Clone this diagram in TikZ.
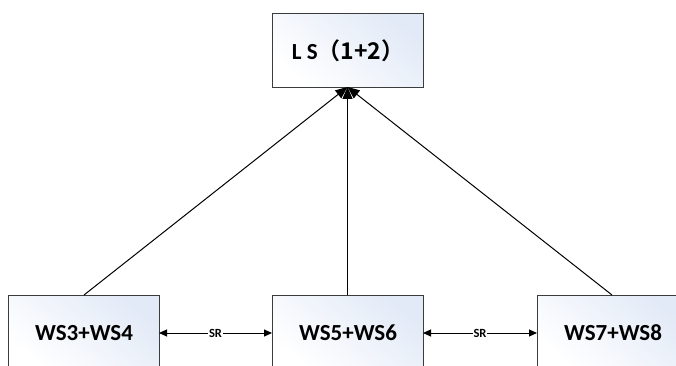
\documentclass[tikz,border=0pt]{standalone}
\usepackage{fontspec}
\setmainfont{Carlito}[BoldFont={Carlito Bold}]
\newfontfamily\cjkfont{Noto Sans CJK SC}[BoldFont={Noto Sans CJK SC Bold}]
\usetikzlibrary{arrows.meta}
\definecolor{boxline}{RGB}{60,60,60}
\definecolor{boxtint}{RGB}{226,234,247}
\begin{document}
\begin{tikzpicture}[x=1pt,y=-1pt,
  wsbox/.style={draw=boxline,line width=1.3pt,minimum width=151pt,minimum height=74pt,
    inner sep=0pt,anchor=north west,top color=boxtint,bottom color=white,shading angle=-40},
  boxtext/.style={font=\fontsize{23}{27}\selectfont\bfseries},
  uparrow/.style={line width=1pt,-{Triangle[length=12pt,width=10pt]}},
  srarrow/.style={line width=1pt,{Triangle[length=8pt,width=7pt]}-{Triangle[length=8pt,width=7pt]}},
  srlabel/.style={fill=white,inner sep=1pt,font=\fontsize{12.5}{14}\selectfont\bfseries}]
\useasboundingbox (0,0) rectangle (676,366);
\clip (0,0) rectangle (676,366);
\node[wsbox,boxtext] (ls) at (272,13) {L S\cjkfont{（}1+2\cjkfont{）}};
\node[wsbox] (w1) at (8,295) {};
\node[wsbox] (w2) at (272,295) {};
\node[wsbox] (w3) at (537,295) {};
\node[boxtext] (t1) at (84,333) {WS3+WS4};
\node[boxtext] (t2) at (348,333) {WS5+WS6};
\node[boxtext] (t3) at (613,333) {WS7+WS8};
\coordinate (lsb) at (347.5,87);
\coordinate (a1) at (84,295);
\coordinate (a2) at (347.5,295);
\coordinate (a3) at (612,295);
\draw[uparrow] (a1) -- (lsb);
\draw[uparrow] (a2) -- (lsb);
\draw[uparrow] (a3) -- (lsb);
\coordinate (r1) at (159,333);
\coordinate (l2) at (272,333);
\coordinate (r2) at (423,333);
\coordinate (l3) at (537,333);
\draw[srarrow] (r1) -- node[srlabel] (sr1) {SR} (l2);
\draw[srarrow] (r2) -- node[srlabel] (sr2) {SR} (l3);
\end{tikzpicture}
\end{document}
